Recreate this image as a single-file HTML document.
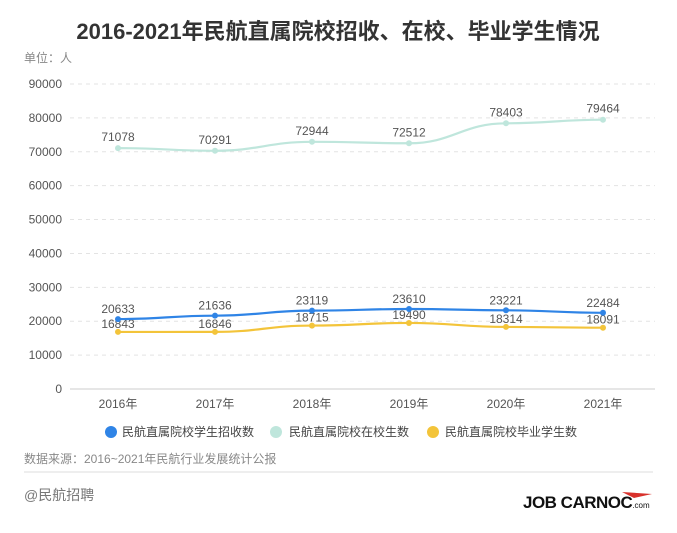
<!DOCTYPE html>
<html><head><meta charset="utf-8"><style>
body{margin:0;width:677px;height:528px;background:#fff;overflow:hidden;font-family:"Liberation Sans","Noto Sans CJK SC",sans-serif;}
svg text{font-family:"Liberation Sans","Noto Sans CJK SC",sans-serif;}
</style></head><body>
<svg id="chart" width="677" height="528">
<text x="338" y="39" text-anchor="middle" font-size="22" font-weight="bold" fill="#333">2016-2021年民航直属院校招收、在校、毕业学生情况</text>
<text x="24" y="62" font-size="12" fill="#888">单位：人</text>
<g id="grid"></g><g id="series"></g>
<g>
<circle cx="111" cy="432" r="6" fill="#2f84e6"/>
<text x="122" y="436" font-size="12" fill="#444">民航直属院校学生招收数</text>
<circle cx="276" cy="432" r="6" fill="#bfe6dc"/>
<text x="289" y="436" font-size="12" fill="#444">民航直属院校在校生数</text>
<circle cx="433" cy="432" r="6" fill="#f3c43a"/>
<text x="445" y="436" font-size="12" fill="#444">民航直属院校毕业学生数</text>
</g>
<text x="24" y="463" font-size="12" fill="#888">数据来源：2016~2021年民航行业发展统计公报</text>
<line x1="24" y1="472" x2="653" y2="472" stroke="#ddd" stroke-width="1"/>
<text x="24" y="500" font-size="14" fill="#777">@民航招聘</text>
<text x="523" y="508" font-size="17" font-weight="bold" fill="#111" letter-spacing="-0.5">JOB CARNOC<tspan font-size="8" font-weight="normal" letter-spacing="0">.com</tspan></text>
<path d="M622 492 L652 494 L634 498 Z" fill="#d8312b"/>
</svg>
<script>
const categories=["2016年","2017年","2018年","2019年","2020年","2021年"];
const enrolled=[20633,21636,23119,23610,23221,22484];
const current=[71078,70291,72944,72512,78403,79464];
const graduated=[16843,16846,18715,19490,18314,18091];
const yTicks=[0,10000,20000,30000,40000,50000,60000,70000,80000,90000];
const NS="http://www.w3.org/2000/svg";
const x=i=>118+i*97, y=v=>389-v*(305/90000);
function mk(t,a,p){const e=document.createElementNS(NS,t);for(const k in a)e.setAttribute(k,a[k]);p.appendChild(e);return e;}
const grid=document.getElementById('grid'), ser=document.getElementById('series');
yTicks.forEach(v=>{
  const l=mk('line',{x1:70,x2:655,y1:y(v),y2:y(v),stroke:v?'#e3e3e3':'#ccc','stroke-dasharray':v?'4 4':'none'},grid);
  
  
  const t=mk('text',{x:62,y:y(v)+4,'text-anchor':'end','font-size':12,fill:'#555'},grid);t.textContent=v;
  
  
});
categories.forEach((c,i)=>{
  const t=mk('text',{x:x(i),y:408,'text-anchor':'middle','font-size':12,fill:'#555'},grid);t.textContent=c;
  
  
});
function path(vals){let d=`M${x(0)},${y(vals[0])}`;for(let i=1;i<vals.length;i++){const x0=x(i-1),x1=x(i),m=(x1-x0)*0.45;d+=` C${x0+m},${y(vals[i-1])} ${x1-m},${y(vals[i])} ${x1},${y(vals[i])}`;}return d;}
function draw(vals,color,name,dy){
  const p=mk('path',{d:path(vals),fill:'none',stroke:color,'stroke-width':2.2},ser);
  
  
  vals.forEach((v,i)=>{
    const c=mk('circle',{cx:x(i),cy:y(v),r:3,fill:color},ser);
    
    
    const t=mk('text',{x:x(i),y:y(v)+dy,'text-anchor':'middle','font-size':12,fill:'#555'},ser);t.textContent=v;
    
    
  });
}
draw(current,'#bfe6dc','current',-7);
draw(graduated,'#f3c43a','graduated',-4);
draw(enrolled,'#2f84e6','enrolled',-6);
</script>
</body></html>
